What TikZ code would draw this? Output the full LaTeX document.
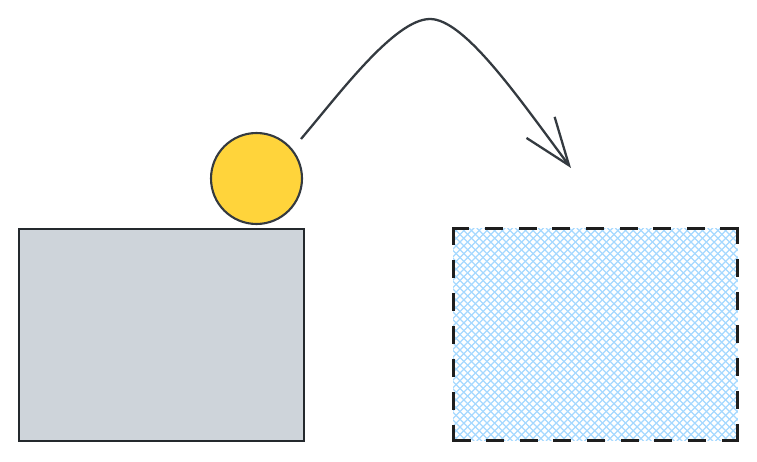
\documentclass[tikz,border=0pt]{standalone}
\usetikzlibrary{arrows.meta}
\definecolor{boxgray}{HTML}{CED4DA}
\definecolor{ballyellow}{HTML}{FFD43B}
\definecolor{hatchblue}{HTML}{A5D8FF}
\definecolor{inkdark}{HTML}{343A40}
\definecolor{dashdark}{HTML}{1E1E1E}

\begin{document}
\begin{tikzpicture}
[ x=0.02cm, y=-0.02cm,
block/.style={rectangle, draw=inkdark!70!black, line width=1.2pt, fill=boxgray,
 minimum width=5.7cm, minimum height=4.24cm, outer sep=0pt},
ball/.style={circle, draw=inkdark, line width=1.2pt, fill=ballyellow,
 minimum size=1.82cm, inner sep=0pt, outer sep=0pt},
target/.style={rectangle, minimum width=5.7cm, minimum height=4.26cm,
 outer sep=0pt},
hatch/.style={hatchblue, line width=0.7pt},
rim/.style={draw=dashdark, line width=1.7pt, line cap=rect},
]
\useasboundingbox (0,0) rectangle (757,462);

% shapes
\node (box) [block] at (161.5,335) {};
\node (sphere) [ball] at (256.5,178.5) {};
\node (goal) [target] at (595.5,334.5) {};

% cross hatching of the goal
\begin{scope}
\clip (goal.south west) rectangle (goal.north east);
\foreach \k in {0,...,66} {
 \draw[hatch] (238+\k*7.7,441) -- ++(215,-215);
 \draw[hatch] (238+\k*7.7,228) -- ++(215,215);
}
\end{scope}

% dashed outline of the goal, edge by edge
\draw[rim, dash pattern=on 8.5pt off 10.63pt] (goal.north west) -- (goal.north east);
\draw[rim, dash pattern=on 8.5pt off 10.2pt] (goal.north east) -- (goal.south east);
\draw[rim, dash pattern=on 8.5pt off 10.63pt] (goal.south east) -- (goal.south west);
\draw[rim, dash pattern=on 8.5pt off 10.2pt] (goal.south west) -- (goal.north west);

% jump
\coordinate (launch) at (301,139);
\coordinate (peak) at (430,19);
\coordinate (landing) at (571,168);
\draw[inkdark, line width=1.3pt, -{Straight Barb[length=27pt,width=20pt]}]
 (launch) .. controls (340,93) and (395,19) .. (peak)
 .. controls (465,19) and (520,100) .. (landing);
\end{tikzpicture}
\end{document}
